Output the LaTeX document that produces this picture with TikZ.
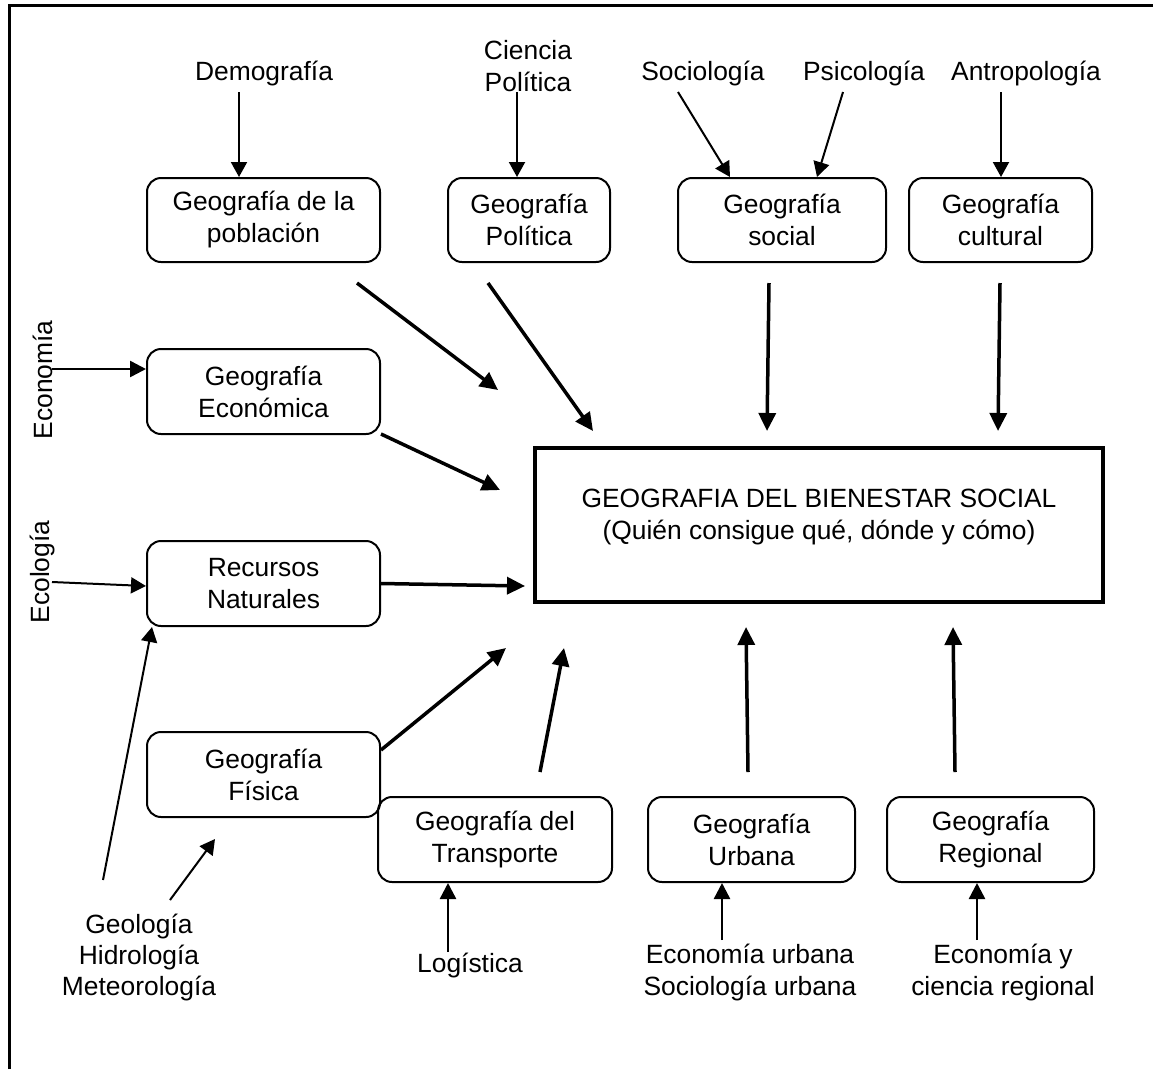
\documentclass[tikz,border=0pt]{standalone}
\usepackage{fontspec}
\setmainfont{Liberation Sans}
\usetikzlibrary{arrows.meta}
\begin{document}
\begin{tikzpicture}[x=1pt,y=-1pt,
  every node/.style={font=\fontsize{26.4}{32}\selectfont, align=center, inner sep=0pt},
  gbox/.style={draw, line width=2pt, rounded corners=14pt, minimum height=85pt},
  mainbox/.style={draw, line width=4pt, minimum width=568pt, minimum height=154pt},
  thinarr/.style={line width=2pt, -{Triangle[length=15pt,width=16pt]}},
  midarr/.style={line width=2.5pt, -{Triangle[length=16pt,width=16pt]}},
  thickarr/.style={line width=3.5pt, -{Triangle[length=18pt,width=17pt]}},
]
\useasboundingbox (0,0) rectangle (1153,1069);
% frame
\draw[line width=3pt] (9,1069) -- (9,5) -- (1153,5);

% top labels
\node (demo) at (264,74) {Demografía};
\node (cienc) at (528,66) {Ciencia\\Política};
\node (socio) at (703,74) {Sociología};
\node (psico) at (864,74) {Psicología};
\node (antro) at (1026,74) {Antropología};

% row 1 boxes
\node[gbox, minimum width=233pt, minimum height=84pt] (pop) at (263.5,220) {Geografía de la\\población};
\node[gbox, minimum width=162pt, minimum height=84pt] (pol) at (529,220) {Geografía\\Política};
\node[gbox, minimum width=208pt, minimum height=84pt] (soc) at (782,220) {Geografía\\social};
\node[gbox, minimum width=183pt, minimum height=84pt] (cul) at (1000.5,220) {Geografía\\cultural};

% main box
\node[mainbox] (main) at (819,525) {};
\node (maintxt) at ([yshift=8pt]main.center) {GEOGRAFIA DEL BIENESTAR SOCIAL\\(Quién consigue qué, dónde y cómo)};

% left column
\node[rotate=90] (econlbl) at (43,380) {Economía};
\node[rotate=90] (ecolbl) at (43,572) {Ecología};
\node[gbox, minimum width=233pt] (econ) at (263.5,391.5) {Geografía\\Económica};
\node[gbox, minimum width=233pt] (rec) at (263.5,583.5) {Recursos\\Naturales};
\node[gbox, minimum width=233pt] (fis) at (263.5,774.5) {Geografía\\Física};

% bottom boxes
\node[gbox, minimum width=234pt] (transp) at (495,839.5) {Geografía del\\Transporte};
\node[gbox, minimum width=207pt] (urb) at (751.5,839.5) {Geografía\\Urbana};
\node[gbox, minimum width=207pt] (reg) at (990.5,839.5) {Geografía\\Regional};

% bottom labels
\node[font=\fontsize{26.4}{31}\selectfont] (geo) at (139,958) {Geología\\Hidrología\\Meteorología};
\node (logi) at (470,965.5) {Logística};
\node (eurb) at (750,973) {Economía urbana\\Sociología urbana};
\node (ereg) at (1003,973) {Economía y\\ciencia regional};

% top arrows
\draw[thinarr] ([shift={(-25,18)}]demo.center) -- ([xshift=-24.5pt]pop.north);
\draw[thinarr] ([shift={(-11,26)}]cienc.center) -- ([xshift=-12pt]pol.north);
\draw[thinarr] ([shift={(-25,18)}]socio.center) -- ([xshift=-52pt]soc.north);
\draw[thinarr] ([shift={(-21,18)}]psico.center) -- ([xshift=35pt]soc.north);
\draw[thinarr] ([shift={(-25,18)}]antro.center) -- ([xshift=0.5pt]cul.north);

% row 1 to main
\draw[thickarr] ([shift={(93.5,63)}]pop.center) -- ([shift={(-35,-56)}]main.north west);
\draw[thickarr] ([shift={(-41,63)}]pol.center) -- ([shift={(60,-15)}]main.north west);
\draw[thickarr] ([shift={(-13,63)}]soc.center) -- ([shift={(234,-15)}]main.north west);
\draw[thickarr] ([shift={(-0.5,63)}]cul.center) -- ([shift={(465,-15)}]main.north west);

% left arrows
\draw[midarr] ([shift={(9,-11)}]econlbl.center) -- ([shift={(0,-22.5)}]econ.west);
\draw[thinarr] ([shift={(9,10)}]ecolbl.center) -- ([shift={(0,2.5)}]rec.west);
\draw[thickarr] ([shift={(0,-1)}]econ.south east) -- ([shift={(-33,44)}]main.north west);
\draw[thickarr] (rec.east) -- ([shift={(-8,61)}]main.west);
\draw[thickarr] ([shift={(0,-24.5)}]fis.east) -- ([shift={(-27,44)}]main.south west);

% bottom to main
\draw[thickarr] ([shift={(45,-24)}]transp.north) -- ([shift={(31,44)}]main.south west);
\draw[thickarr] ([shift={(-3.5,-24)}]urb.north) -- ([shift={(213,23)}]main.south west);
\draw[thickarr] ([shift={(-35.5,-24)}]reg.north) -- ([shift={(420,23)}]main.south west);

% bottom label arrows
\draw[thinarr] ([shift={(-36,-78)}]geo.center) -- ([xshift=-111.5pt]rec.south);
\draw[thinarr] ([shift={(31,-58)}]geo.center) -- ([shift={(-48.5,21)}]fis.south);
\draw[midarr] ([shift={(-22,-13.5)}]logi.center) -- ([xshift=-47pt]transp.south);
\draw[midarr] ([shift={(-28,-33)}]eurb.center) -- ([xshift=-29.5pt]urb.south);
\draw[midarr] ([shift={(-26,-33)}]ereg.center) -- ([xshift=-13.5pt]reg.south);
\end{tikzpicture}
\end{document}
